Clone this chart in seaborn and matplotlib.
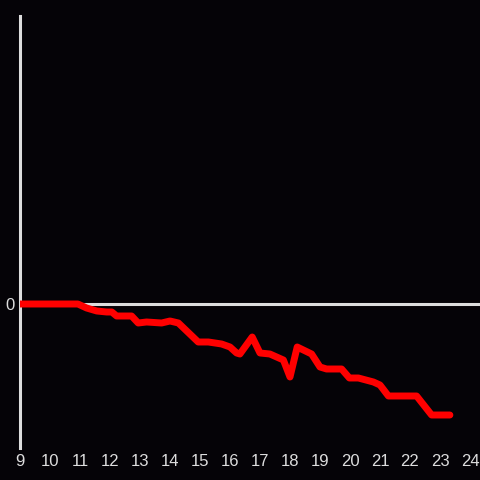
import matplotlib
matplotlib.use("Agg")
import matplotlib.pyplot as plt
import seaborn as sns
import pandas as pd

# values
hours = [9.0, 10.93, 11.22, 11.56, 11.89, 12.06, 12.22, 12.72, 12.94, 13.22,
         13.72, 14.0, 14.28, 14.94, 15.28, 15.72, 16.0, 16.22, 16.33, 16.74,
         17.0, 17.33, 17.78, 18.0, 18.24, 18.72, 19.0, 19.22, 19.72, 19.98,
         20.28, 20.78, 21.0, 21.28, 22.22, 22.72, 23.33]
values = [0, 0, -4, -7, -8, -8, -12, -12, -19, -18,
          -19, -17, -19, -38, -38, -40, -43, -49, -50, -33,
          -49, -50, -56, -73, -43, -50, -63, -65, -65, -74,
          -74, -78, -81, -92, -92, -111, -111]
xticks = list(range(9, 25))

df = pd.DataFrame({"hour": hours, "value": values})

bg = "#050307"
fg = "#dddddd"

sns.set_style("dark")
plt.rcParams["font.family"] = ["Liberation Sans", "DejaVu Sans"]
fig = plt.figure(figsize=(4.8, 4.8), dpi=100, facecolor=bg)
ax = fig.add_axes([20 / 480, 32 / 480, 460 / 480, 432 / 480], facecolor=bg)

ax.axhline(0, color=fg, lw=2.2, zorder=1)
sns.lineplot(data=df, x="hour", y="value", color="#ff0000", lw=5,
             ax=ax, zorder=3)

ax.set_xlim(9, 9 + 460 / 30)
ax.set_ylim(-144, 288)
ax.set_xticks(xticks)
ax.set_xticklabels([str(t) for t in xticks])
ax.set_yticks([0])
ax.set_yticklabels(["0"])
ax.tick_params(colors=fg, labelsize=12, length=0, pad=4)
ax.tick_params(axis="y", pad=4)
ax.set_xlabel("")
ax.set_ylabel("")
ax.grid(False)

for side in ["top", "right", "bottom"]:
    ax.spines[side].set_visible(False)
ax.spines["left"].set_color(fg)
ax.spines["left"].set_linewidth(2.2)

fig.savefig("out.png", dpi=100, facecolor=bg)
